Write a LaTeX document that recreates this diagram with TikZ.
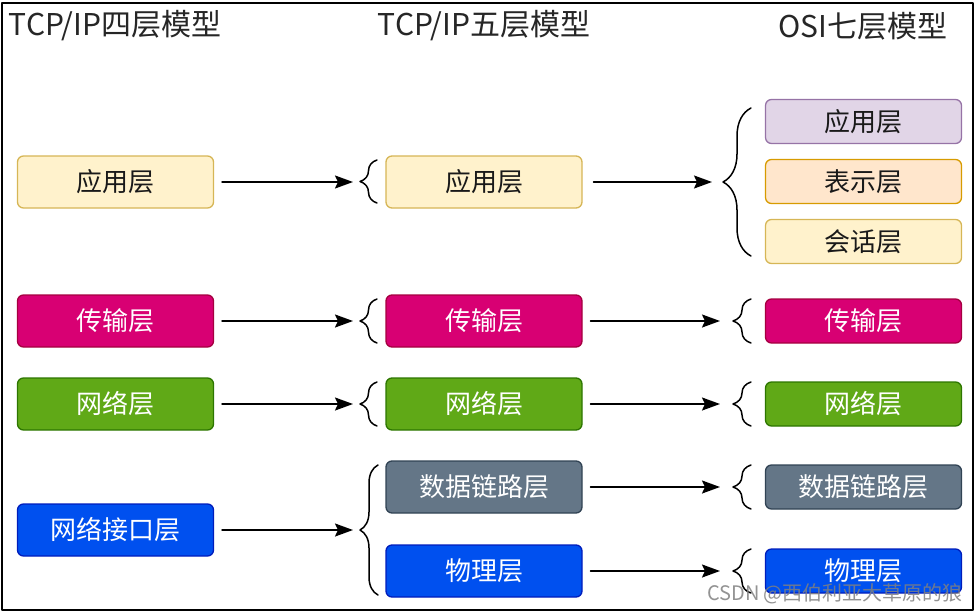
\documentclass[tikz,border=0pt]{standalone}
\usepackage{fontspec}
\setmainfont{Noto Sans CJK SC}
\usetikzlibrary{arrows.meta,decorations.pathreplacing}
\definecolor{ylwF}{HTML}{FFF2CC}\definecolor{ylwD}{HTML}{D6B656}
\definecolor{pnkF}{HTML}{D80073}\definecolor{pnkD}{HTML}{A50040}
\definecolor{grnF}{HTML}{60A917}\definecolor{grnD}{HTML}{2D7600}
\definecolor{bluF}{HTML}{0050EF}\definecolor{bluD}{HTML}{001DBC}
\definecolor{gryF}{HTML}{647687}\definecolor{gryD}{HTML}{314354}
\definecolor{vioF}{HTML}{E1D5E7}\definecolor{vioD}{HTML}{9673A6}
\definecolor{orgF}{HTML}{FFE6CC}\definecolor{orgD}{HTML}{D79B00}
\begin{document}
\begin{tikzpicture}[x=1pt,y=-1pt,line join=round,line cap=round,
	lay/.style 2 args={fill=#1,draw=#2,rounded corners=6pt,minimum width=196pt,minimum height=52pt,line width=1.3pt,font=\fontsize{26}{30}\selectfont,text=black!90},
	wt/.style={text=white},sm/.style={minimum height=44pt},
	ttl/.style={font=\fontsize{30}{34}\selectfont,text=black!85},
	brc/.style={decorate,decoration={brace,amplitude=#1},line width=1.5pt},
	arr/.style={-{Stealth[length=18pt,width=13pt,inset=3pt]},line width=1.8pt}]
	\useasboundingbox (0,0) rectangle (976,613);
	\draw[line width=2pt] (2,3) rectangle (973,610);
	% titles
	\node[ttl] (t4) at (115,26) {TCP/IP四层模型};
	\node[ttl] (t5) at (484,26) {TCP/IP五层模型};
	\node[ttl] (t7) at (863,26) {OSI七层模型};
	% four layers
	\node[lay={ylwF}{ylwD}] (a1) at (115.5,182) {应用层};
	\node[lay={pnkF}{pnkD},wt] (a2) at (115.5,321) {传输层};
	\node[lay={grnF}{grnD},wt] (a3) at (115.5,404) {网络层};
	\node[lay={bluF}{bluD},wt] (a4) at (115.5,530) {网络接口层};
	% five layers
	\node[lay={ylwF}{ylwD}] (b1) at (484,182) {应用层};
	\node[lay={pnkF}{pnkD},wt] (b2) at (484,321) {传输层};
	\node[lay={grnF}{grnD},wt] (b3) at (484,404) {网络层};
	\node[lay={gryF}{gryD},wt] (b4) at (484,487) {数据链路层};
	\node[lay={bluF}{bluD},wt] (b5) at (484,571) {物理层};
	% seven layers
	\node[lay={vioF}{vioD},sm] (c1) at (863.5,121.5) {应用层};
	\node[lay={orgF}{orgD},sm] (c2) at (863.5,181.5) {表示层};
	\node[lay={ylwF}{ylwD},sm] (c3) at (863.5,241.5) {会话层};
	\node[lay={pnkF}{pnkD},sm,wt] (c4) at (863.5,321) {传输层};
	\node[lay={grnF}{grnD},sm,wt] (c5) at (863.5,404) {网络层};
	\node[lay={gryF}{gryD},sm,wt] (c6) at (863.5,487) {数据链路层};
	\node[lay={bluF}{bluD},sm,wt] (c7) at (863.5,571) {物理层};
	% braces
	\draw[brc=17pt] (377,203)--(377,160);\coordinate (p1) at (360,182);
	\draw[brc=17pt] (377,343)--(377,299);\coordinate (p2) at (360,321);
	\draw[brc=17pt] (377,426)--(377,382);\coordinate (p3) at (360,404);
	\draw[brc=18pt] (378,595)--(378,465);\coordinate (p4) at (360,530);
	\draw[brc=28pt] (751,256)--(751,108);\coordinate (q1) at (723,182);
	\draw[brc=18pt] (751,343)--(751,299);\coordinate (q2) at (733,321);
	\draw[brc=18pt] (751,426)--(751,382);\coordinate (q3) at (733,404);
	\draw[brc=18pt] (751,509)--(751,465);\coordinate (q4) at (733,487);
	\draw[brc=18pt] (751,593)--(751,549);\coordinate (q5) at (733,571);
	% arrows
	\foreach \i in {1,...,4} \draw[arr,shorten <=8pt,shorten >=7pt] (a\i)--(p\i);
	\draw[arr,shorten <=11pt,shorten >=11pt] (b1)--(q1);
	\foreach \i in {2,...,5} \draw[arr,shorten <=8pt,shorten >=13pt] (b\i)--(q\i);
	\node[text=black!50,opacity=0.85,font=\fontsize{20}{24}\selectfont] (wm) at (835,594) {CSDN @西伯利亚大草原的狼};
\end{tikzpicture}
\end{document}
